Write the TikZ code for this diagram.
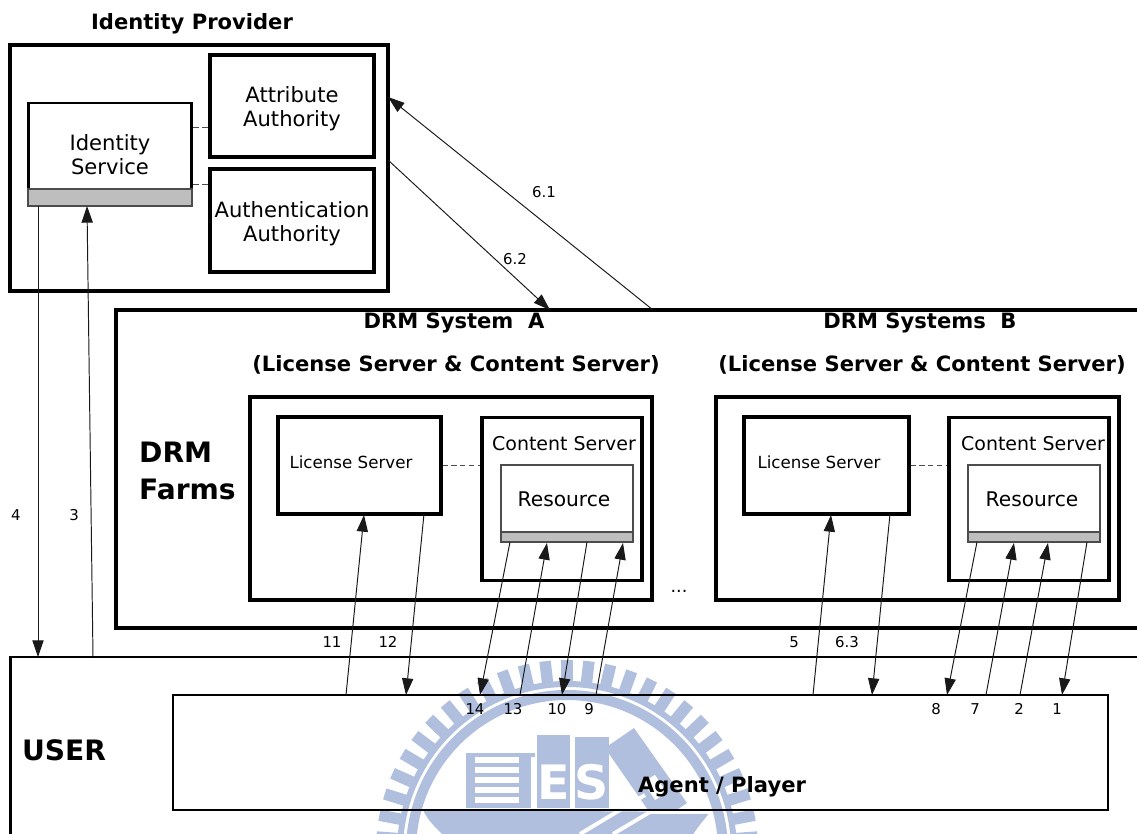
\documentclass[tikz,border=0pt]{standalone}
\usepackage{fontspec}
\setmainfont{DejaVu Sans}
\usetikzlibrary{arrows.meta, positioning}
\definecolor{logocolor}{RGB}{175,191,221}
\definecolor{barcolor}{RGB}{190,190,190}

\begin{document}
\begin{tikzpicture}[
    x=0.02cm, y=-0.02cm,
    box/.style={rectangle, draw=black, line width=1.9pt, inner sep=0pt, align=center, font=\fontsize{12}{13.8}\selectfont},
    innerbox/.style={rectangle, draw=black!70, line width=0.9pt, inner sep=0pt, align=center, font=\fontsize{12}{14}\selectfont},
    bar/.style={rectangle, draw=black!70, fill=barcolor, line width=0.9pt, inner sep=0pt},
    title/.style={font=\fontsize{12}{14}\selectfont\bfseries},
    num/.style={font=\fontsize{8.5}{10}\selectfont},
    arrow/.style={-{Triangle[length=9.5pt,width=6.4pt]}, line width=0.55pt, color=black!90},
    link/.style={line width=0.55pt, color=black!70, dash pattern=on 3pt off 2pt}
]
    \clip (0,0) rectangle (1137,834);

    % watermark
    \begin{scope}[logocolor]
    \foreach \a in {-189,-182.4,...,10}
        \draw[line width=6.5pt] (567,851)+(\a:168) -- +(\a:191);
    \draw[line width=3.4pt] (567,851) circle (167);
    \draw[line width=5.7pt] (567,851) circle (156);
    \fill (466,753) rectangle (531,808);
    \fill (466,753) rectangle (535,757);
    \fill (537,735) rectangle (570,808);
    \fill (575,737) rectangle (609,808);
    \fill (634,728) -- (687,803) -- (657,823) -- (605,748) -- cycle;
    \fill (423,810) -- (710,812) .. controls (700,825) and (695,830) .. (690,840) -- (447,840) .. controls (440,830) and (430,825) .. cycle;
    \foreach \y in {757,767,777,787,797}
        \fill[white] (475,\y) rectangle (519,\y+6);
    \fill[white] (643,782) -- (655,775) -- (667,793) -- (655,800) -- cycle;
    \node[white, font=\fontsize{27}{27}\selectfont\bfseries] (letterE) at (554,782) {E};
    \node[white, font=\fontsize{27}{27}\selectfont\bfseries] (letterS) at (592,782) {S};
    \draw[white, line width=2.2pt] (580,834) -- (645,795);
    \draw[white, line width=2.2pt] (613,834) -- (650,812) -- (710,812);
    \end{scope}

    % identity provider
    \node[title] (idptitle) at (192,24) {Identity Provider};
    \node[box, minimum width=7.56cm, minimum height=4.92cm] (idp) at (199,168) {};
    \node[box, minimum width=3.28cm, minimum height=2.04cm] (attr) at (292,106) {};
    \node[font=\fontsize{12}{13.8}\selectfont, align=center] (attrtext) at (292,108.5) {Attribute\\Authority};
    \node[box, minimum width=3.28cm, minimum height=2.06cm] (authn) at (292,220.5) {};
    \node[font=\fontsize{12}{13.8}\selectfont, align=center] (authntext) at (292,223.5) {Authentication\\Authority};
    \node[box, minimum width=3.28cm, minimum height=2.06cm, line width=1.7pt] (idsvc) at (110,154.5) {};
    \node[font=\fontsize{12}{13.8}\selectfont, align=center] (idsvctext) at (110,155) {Identity\\Service};
    \node[bar, minimum width=3.28cm, minimum height=0.34cm] (idbar) at (110,197.5) {};

    % drm farm
    \node[box, minimum width=20.8cm, minimum height=6.36cm] (farm) at (636,469) {};
    \node[title] (titlea) at (454,323) {DRM System\ \ A};
    \node[title] (subtitlea) at (456,365) {(License Server \& Content Server)};
    \node[title] (titleb) at (920,323) {DRM Systems\ \ B};
    \node[title] (subtitleb) at (922,365) {(License Server \& Content Server)};
    \node[font=\fontsize{16}{21}\selectfont\bfseries, align=left, anchor=west] (farmtext) at (133,471) {DRM\\Farms};

    \node[box, minimum width=8.04cm, minimum height=4.06cm] (sysa) at (451,498.5) {};
    \node[box, minimum width=3.26cm, minimum height=1.94cm] (lica) at (359.5,465.5) {};
    \node[font=\fontsize{9.5}{11}\selectfont] (licatext) at (351,462) {License Server};
    \node[box, minimum width=3.2cm, minimum height=3.26cm] (cona) at (562,499) {};
    \node[font=\fontsize{10.8}{12}\selectfont] (conatext) at (564,444) {Content Server};
    \node[innerbox, minimum width=2.64cm, minimum height=1.54cm] (resa) at (567,503.5) {};
    \node[font=\fontsize{11.5}{13}\selectfont] (resatext) at (564,499) {Resource};
    \node[bar, minimum width=2.64cm, minimum height=0.2cm] (bara) at (567,537) {};

    \node[box, minimum width=8.06cm, minimum height=4.06cm] (sysb) at (917.5,498.5) {};
    \node[box, minimum width=3.3cm, minimum height=1.94cm] (licb) at (826.5,465.5) {};
    \node[font=\fontsize{9.5}{11}\selectfont] (licbtext) at (819,462) {License Server};
    \node[box, minimum width=3.2cm, minimum height=3.26cm] (conb) at (1029,499) {};
    \node[font=\fontsize{10.8}{12}\selectfont] (conbtext) at (1033,444) {Content Server};
    \node[innerbox, minimum width=2.64cm, minimum height=1.54cm] (resb) at (1034,503.5) {};
    \node[font=\fontsize{11.5}{13}\selectfont] (resbtext) at (1032,499) {Resource};
    \node[bar, minimum width=2.64cm, minimum height=0.2cm] (barb) at (1034,537) {};
    \node[font=\fontsize{10}{11}\selectfont] (dots) at (679,591) {...};

    % user
    \node[box, line width=1.6pt, minimum width=23.6cm, minimum height=4cm] (user) at (600,757) {};
    \node[font=\fontsize{16}{18}\selectfont\bfseries] (usertext) at (64,750) {USER};
    \node[box, line width=1.3pt, minimum width=18.7cm, minimum height=2.3cm] (agent) at (640.5,752.5) {};
    \node[title] (agenttext) at (722,787) {Agent / Player};

    % free ends
    \coordinate (s4) at (38,206);   \coordinate (e4) at (38,657);
    \coordinate (s3) at (93,657);   \coordinate (e3) at (87,206);
    \coordinate (s61) at (653,310); \coordinate (e61) at (388,97);
    \coordinate (s62) at (388,160); \coordinate (e62) at (550,310);
    \coordinate (s11) at (346,695); \coordinate (e11) at (364,515);
    \coordinate (s12) at (424,514); \coordinate (e12) at (406,695);
    \coordinate (s14) at (510,542); \coordinate (e14) at (480,695);
    \coordinate (s13) at (520,695); \coordinate (e13) at (547,543);
    \coordinate (s10) at (587,542); \coordinate (e10) at (562,695);
    \coordinate (s9) at (596,695);  \coordinate (e9) at (623,543);
    \coordinate (s5) at (813,695);  \coordinate (e5) at (831,515);
    \coordinate (s63) at (890,514); \coordinate (e63) at (872,695);
    \coordinate (s8) at (977,542);  \coordinate (e8) at (947,695);
    \coordinate (s7) at (986,695);  \coordinate (e7) at (1014,543);
    \coordinate (s2) at (1020,695); \coordinate (e2) at (1048,543);
    \coordinate (s1) at (1087,542); \coordinate (e1) at (1062,695);

    \foreach \n in {4,3,61,62,11,12,14,13,10,9,5,63,8,7,2,1}
        \draw[arrow] (s\n) -- (e\n);

    \draw[link] (idsvc.east |- 0,127) -- (attr.west |- 0,127);
    \draw[link] (idsvc.east |- 0,184) -- (authn.west |- 0,184);
    \draw[link] (lica.east) -- (cona.west |- lica.east);
    \draw[link] (licb.east) -- (conb.west |- licb.east);

    \foreach \x/\y/\t in {16/515/4, 74/515/3, 544/192/6.1, 515/259/6.2, 332/642/11, 388/642/12,
        794/642/5, 847/642/6.3, 475/709/14, 513/709/13, 557/709/10, 589/709/9,
        936/709/8, 975/709/7, 1019/709/2, 1057/709/1}
        \node[num] (n\t) at (\x,\y) {\t};
\end{tikzpicture}
\end{document}
